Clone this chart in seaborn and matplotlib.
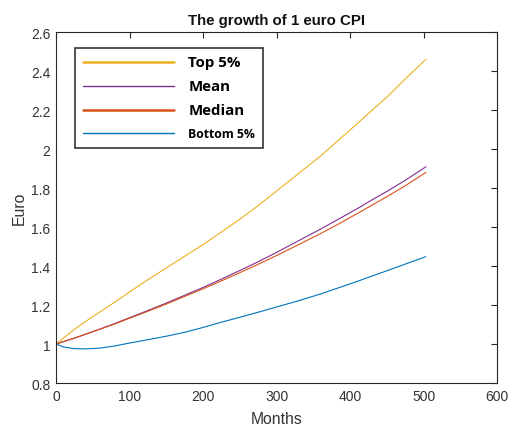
import matplotlib
matplotlib.use("Agg")
import matplotlib.pyplot as plt
import seaborn as sns
import pandas as pd
from matplotlib.lines import Line2D

# ---- data ----
months = [0, 10, 25, 40, 60, 80, 100, 125, 150, 175, 200, 225, 250, 275, 300,
          330, 360, 384, 411, 430, 451, 475, 503]
top5 = [1.00, 1.03, 1.075, 1.115, 1.165, 1.215, 1.267, 1.33, 1.39, 1.45, 1.51,
        1.575, 1.64, 1.71, 1.785, 1.875, 1.965, 2.045, 2.135, 2.20, 2.27, 2.36, 2.46]
mean = [1.00, 1.012, 1.03, 1.05, 1.077, 1.105, 1.135, 1.172, 1.21, 1.25, 1.29,
        1.333, 1.377, 1.422, 1.47, 1.53, 1.59, 1.64, 1.697, 1.74, 1.785, 1.84, 1.909]
median = [1.00, 1.012, 1.03, 1.05, 1.076, 1.103, 1.132, 1.168, 1.205, 1.244, 1.283,
          1.324, 1.366, 1.409, 1.454, 1.51, 1.567, 1.615, 1.672, 1.713, 1.758, 1.812, 1.88]
bottom5 = [1.00, 0.985, 0.976, 0.975, 0.979, 0.99, 1.005, 1.022, 1.04, 1.06, 1.085,
           1.112, 1.137, 1.163, 1.19, 1.222, 1.257, 1.288, 1.323, 1.349, 1.377, 1.41, 1.448]

series_names = ["Top 5%", "Mean", "Median", "Bottom 5%"]
series_values = [top5, mean, median, bottom5]
colors = ["#EDB120", "#7E2F8E", "#D95319", "#0072BD"]

xticks = [0, 100, 200, 300, 400, 500, 600]
yticks = [0.8, 1.0, 1.2, 1.4, 1.6, 1.8, 2.0, 2.2, 2.4, 2.6]
yticklabels = ["0.8", "1", "1.2", "1.4", "1.6", "1.8", "2", "2.2", "2.4", "2.6"]

rows = []
for name, vals in zip(series_names, series_values):
    for m, v in zip(months, vals):
        rows.append({"Months": m, "Euro": v, "Series": name})
df = pd.DataFrame(rows)

sns.set_style("white")
plt.rcParams["font.family"] = ["Liberation Sans", "DejaVu Sans"]

fig = plt.figure(figsize=(5.09, 4.27), dpi=100)
ax = fig.add_axes([0.110, 0.1007, 0.867, 0.822])

sns.lineplot(data=df, x="Months", y="Euro", hue="Series", hue_order=series_names,
             palette=colors, linewidth=0.8, legend=False, ax=ax)

ax.set_xlim(0, 600)
ax.set_ylim(0.8, 2.6)
ax.set_xticks(xticks)
ax.set_yticks(yticks)
ax.set_yticklabels(yticklabels)
ax.tick_params(direction="in", length=4, width=0.8, colors="#262626",
               labelsize=10, top=True, right=True, labelcolor="#333333", pad=4)
for s in ax.spines.values():
    s.set_visible(True)
    s.set_color("#262626")
    s.set_linewidth(0.8)

ax.set_xlabel("Months", fontsize=11.3, color="#333333", labelpad=6)
ax.set_ylabel("Euro", fontsize=11.3, color="#333333", labelpad=3)
ax.set_title("The growth of 1 euro CPI", fontsize=10.8, fontweight="bold", color="#111111", pad=6)

handles = [Line2D([0], [0], color=c, lw=lw) for c, lw in zip(colors, [1.8, 1.0, 1.8, 1.0])]
leg = ax.legend(handles, series_names, loc="upper left", bbox_to_anchor=(0.043, 0.955),
                borderaxespad=0, frameon=True, fancybox=False, edgecolor="black",
                handlelength=6.6, handletextpad=1.0, labelspacing=0.72, borderpad=0.55,
                prop={"family": ["Open Sans", "DejaVu Sans"], "weight": "bold", "size": 10})
leg.get_frame().set_linewidth(1.2)
sizes = [10.8, 10.8, 10.8, 8.8]
for t, sz in zip(leg.get_texts(), sizes):
    t.set_fontsize(sz)
    t.set_color("black")

fig.savefig("out.png", dpi=100)
